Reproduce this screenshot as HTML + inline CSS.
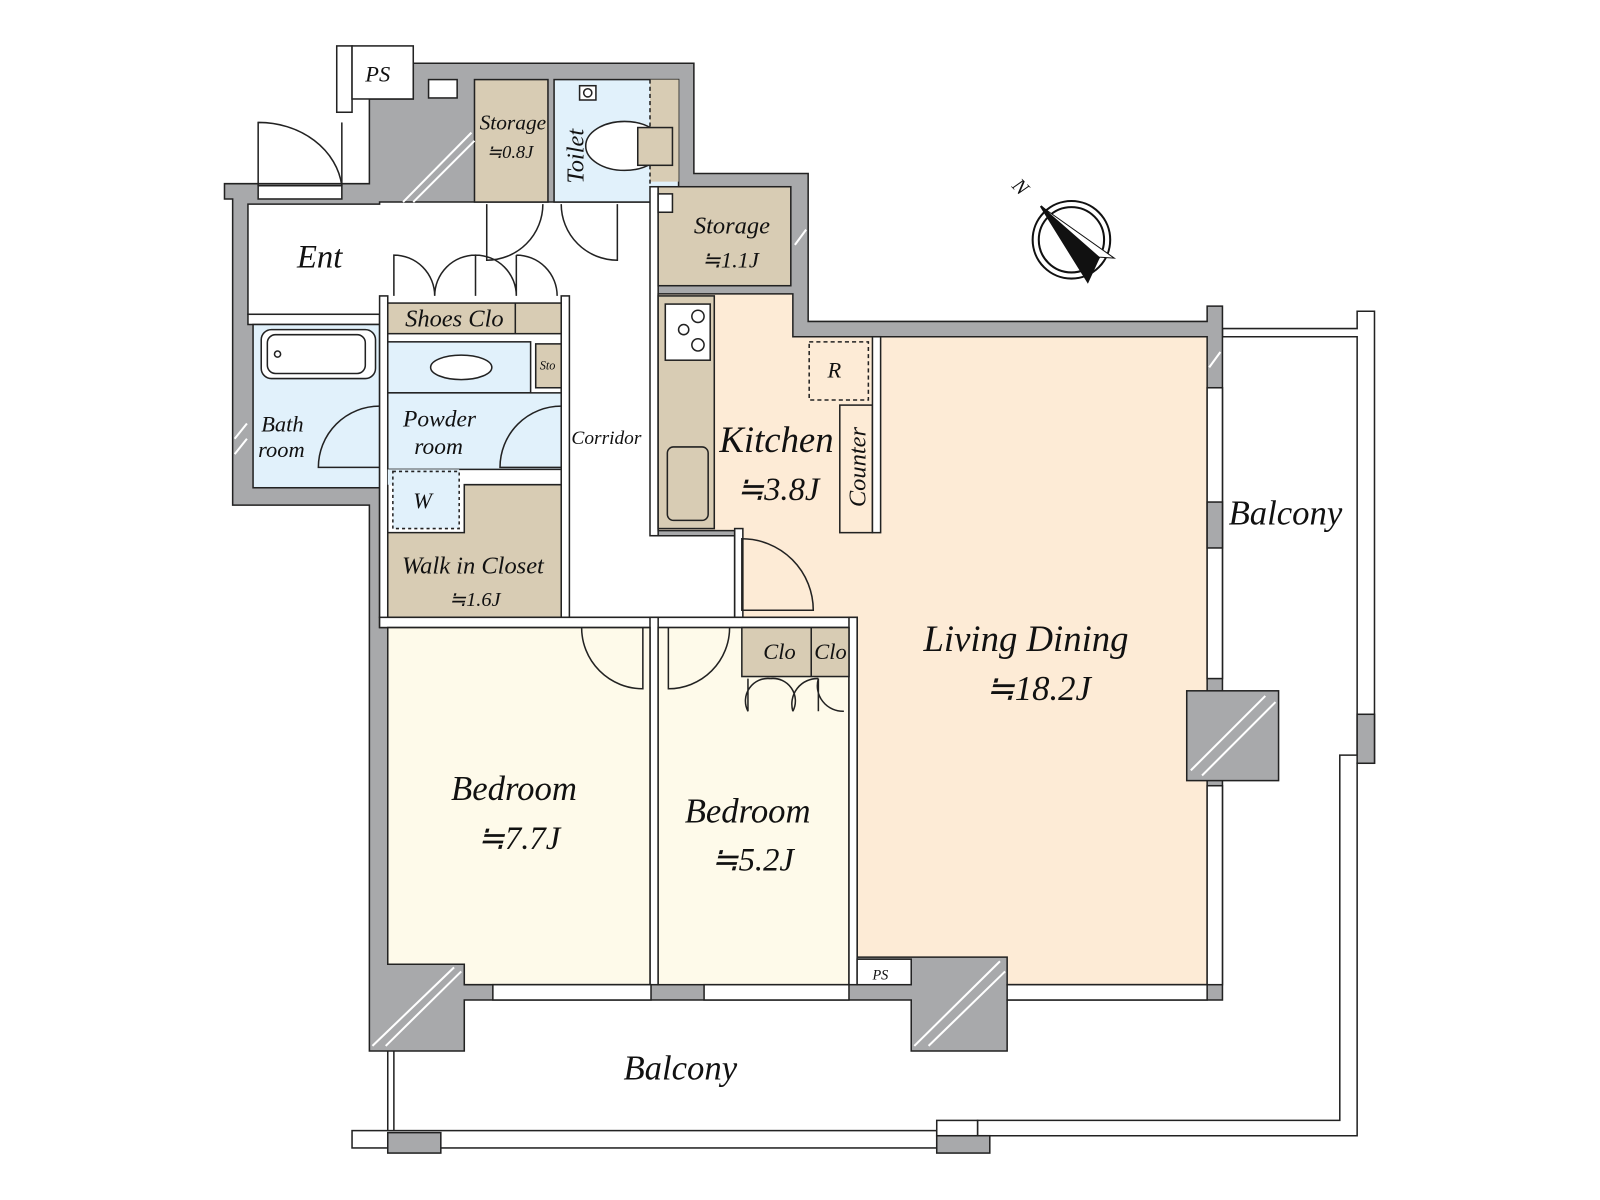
<!DOCTYPE html>
<html><head><meta charset="utf-8"><style>
html,body{margin:0;padding:0;background:#fff}
svg{display:block}
text{font-family:"Liberation Serif",serif;font-style:italic;fill:#111}
</style></head><body>
<svg width="1600" height="1200" viewBox="0 0 1568 1176" xmlns="http://www.w3.org/2000/svg">
<g stroke="#222" stroke-width="1.5">
<!-- balcony rails -->
<path d="M1198 322 H1330 V305 H1347 V748 H1330 V1113 H958 V1098 H1313 V740 H1330 V330 H1198 Z" fill="#fff"/>
<rect x="1330" y="700" width="17" height="48" fill="#a8a9ab"/>
<rect x="345" y="1108" width="573" height="17" fill="#fff"/>
<rect x="918" y="1113" width="52" height="17" fill="#a8a9ab"/>
<rect x="380" y="1110" width="52" height="20" fill="#a8a9ab"/>
<rect x="918" y="1098" width="40" height="15" fill="#fff"/>
<line x1="380" y1="1030" x2="380" y2="1108"/><line x1="386" y1="1030" x2="386" y2="1108"/>

<!-- outer gray walls -->
<path d="M220 180 H362 V97 H405 V62 H680 V170 H792 V315 H1183 V300 H1198 V980 H987 V1030 H893 V980 H455 V1030 H362 V495 H228 V195 H220 Z" fill="#a8a9ab"/>
<!-- Ent + corridor white -->
<path d="M243 200 H372 V198 H640 V525 H720 V605 H372 V308 H243 Z" fill="#fff"/>
<rect x="243" y="308" width="129" height="10" fill="#fff"/>
<rect x="465" y="78" width="72" height="120" fill="#d8ccb4"/>
<rect x="543" y="78" width="122" height="120" fill="#e1f1fb"/>
<rect x="637" y="78" width="28" height="100" fill="#d8ccb4" stroke="none"/>
<line x1="637" y1="78" x2="637" y2="180" stroke-dasharray="4 3"/>
<rect x="568" y="84" width="16" height="14" fill="#fff"/>
<circle cx="576" cy="91" r="4" fill="none"/>
<ellipse cx="612" cy="143" rx="38" ry="24" fill="#fff"/>
<rect x="625" y="125" width="34" height="37" fill="#d8ccb4"/>
<rect x="420" y="78" width="28" height="18" fill="#fff"/>
<rect x="330" y="45" width="15" height="65" fill="#fff"/>
<rect x="345" y="45" width="60" height="52" fill="#fff"/>
<rect x="637" y="183" width="8" height="342" fill="#fff"/>
<rect x="645" y="183" width="130" height="97" fill="#d8ccb4"/>
<rect x="645" y="190" width="14" height="18" fill="#fff"/>
<!-- kitchen/living -->
<path d="M645 288 H777 V330 H1183 V965 H987 V938 H840 V605 H720 V520 H645 Z" fill="#fdebd6"/>
<rect x="645" y="290" width="55" height="228" fill="#d8ccb4"/>
<rect x="652" y="298" width="44" height="55" fill="#fff"/>
<circle cx="684" cy="310" r="6" fill="none"/><circle cx="684" cy="338" r="6" fill="none"/><circle cx="670" cy="323" r="5" fill="none"/>
<rect x="654" y="438" width="40" height="72" rx="6" fill="#d8ccb4"/>
<rect x="793" y="335" width="58" height="57" fill="none" stroke-dasharray="4 3"/>
<rect x="823" y="397" width="32" height="125" fill="#fdebd6"/>
<rect x="855" y="330" width="8" height="192" fill="#fff"/>
<rect x="720" y="518" width="8" height="87" fill="#fff"/>
<!-- bath etc -->
<rect x="248" y="318" width="124" height="160" fill="#e1f1fb"/>
<rect x="256" y="323" width="112" height="48" rx="10" fill="#fff"/>
<rect x="262" y="328" width="96" height="38" rx="8" fill="none"/>
<circle cx="272" cy="347" r="3" fill="none"/>
<rect x="372" y="290" width="8" height="325" fill="#fff"/>
<rect x="550" y="290" width="8" height="315" fill="#fff"/>
<rect x="380" y="297" width="170" height="30" fill="#d8ccb4"/>
<line x1="505" y1="297" x2="505" y2="327"/>
<rect x="380" y="335" width="140" height="50" fill="#e1f1fb"/>
<ellipse cx="452" cy="360" rx="30" ry="12" fill="#fff"/>
<rect x="525" y="337" width="25" height="43" fill="#d8ccb4"/>
<rect x="380" y="385" width="170" height="75" fill="#e1f1fb"/>
<path d="M380 460 H450 V475 H380 Z" fill="#e1f1fb" stroke="none"/>
<rect x="385" y="462" width="65" height="56" fill="#e1f1fb" stroke-dasharray="3 3"/>
<path d="M380 522 H455 V475 H550 V605 H380 Z" fill="#d8ccb4"/>
<!-- partition walls -->
<rect x="372" y="605" width="468" height="10" fill="#fff"/>
<rect x="637" y="605" width="8" height="360" fill="#fff"/>
<!-- bedrooms -->
<path d="M380 615 H637 V965 H455 V945 H380 Z" fill="#fefaea"/>
<rect x="645" y="615" width="187" height="350" fill="#fefaea"/>
<rect x="832" y="605" width="8" height="360" fill="#fff"/>
<rect x="727" y="615" width="105" height="48" fill="#d8ccb4"/>
<line x1="795" y1="615" x2="795" y2="663"/>
<rect x="840" y="940" width="53" height="25" fill="#fff"/>
<!-- pillar -->
<rect x="1163" y="677" width="90" height="88" fill="#a8a9ab"/>
<!-- windows -->
<rect x="1183" y="380" width="15" height="285" fill="#fff"/>
<rect x="1183" y="770" width="15" height="195" fill="#fff"/>
<rect x="1183" y="492" width="15" height="45" fill="#a8a9ab"/>
<rect x="483" y="965" width="155" height="15" fill="#fff"/>
<rect x="690" y="965" width="142" height="15" fill="#fff"/>
<rect x="987" y="965" width="196" height="15" fill="#fff"/>
<rect x="253" y="182" width="82" height="13" fill="#fff"/>
</g>
<!-- hatches -->
<g stroke="#fff" stroke-width="2">
<line x1="395" y1="198" x2="462" y2="130"/><line x1="405" y1="198" x2="465" y2="138"/>
<line x1="365" y1="1025" x2="445" y2="948"/><line x1="378" y1="1025" x2="452" y2="952"/>
<line x1="896" y1="1025" x2="980" y2="942"/><line x1="910" y1="1025" x2="985" y2="952"/>
<line x1="1167" y1="755" x2="1240" y2="682"/><line x1="1178" y1="760" x2="1250" y2="688"/>
<line x1="230" y1="430" x2="242" y2="415"/><line x1="230" y1="445" x2="242" y2="430"/>
<line x1="779" y1="240" x2="790" y2="225"/><line x1="1185" y1="360" x2="1196" y2="345"/>
</g>
<!-- doors -->
<g stroke="#222" stroke-width="1.5" fill="none">
<path d="M253 182 V120 A82 70 0 0 1 335 182"/><line x1="335" y1="120" x2="335" y2="182"/>
<path d="M532 200 A55 55 0 0 1 477 255 V200"/>
<path d="M550 200 A55 55 0 0 0 605 255 V200"/>
<path d="M386 290 V250 A40 40 0 0 1 426 290 M426 290 A40 40 0 0 1 466 250 V290 M466 290 V250 A40 40 0 0 1 506 290 M506 250 A40 40 0 0 1 546 290 M506 250 V290"/>
<path d="M372 398 A60 60 0 0 0 312 458 H372"/>
<path d="M550 398 A60 60 0 0 0 490 458 H550"/>
<path d="M570 615 A60 60 0 0 0 630 675 V615"/>
<path d="M715 615 A60 60 0 0 1 655 675 V615"/>
<path d="M727 528 A70 70 0 0 1 797 598 H727 Z"/>
<path d="M733 665 V697 A22 22 0 0 1 755 665 M777 697 A22 22 0 0 0 755 665 M777 697 A25 25 0 0 1 802 665 M827 697 A25 25 0 0 1 802 665 V697"/>
</g>
<!-- compass -->
<g stroke="#111" stroke-width="2" fill="none">
<ellipse cx="1050" cy="235" rx="38" ry="38"/><ellipse cx="1050" cy="235" rx="32" ry="32"/>
<polygon points="1020,202 1077,252 1066,276" fill="#111"/>
<polygon points="1020,202 1092,253 1077,252" fill="#fff" stroke-width="1"/>
</g>
<text x="992" y="190" font-size="20" transform="rotate(45 1000 185)">N</text>
<!-- labels -->
<text x="358" y="80" font-size="22">PS</text>
<text x="470" y="127" font-size="21">Storage</text>
<text x="477" y="155" font-size="18">≒0.8J</text>
<text x="0" y="0" font-size="24" transform="translate(572,180) rotate(-90)">Toilet</text>
<text x="680" y="229" font-size="24">Storage</text>
<text x="688" y="262" font-size="22">≒1.1J</text>
<text x="291" y="262" font-size="32">Ent</text>
<text x="397" y="320" font-size="24">Shoes Clo</text>
<text x="529" y="362" font-size="12">Sto</text>
<text x="256" y="423" font-size="22">Bath</text>
<text x="253" y="448" font-size="22">room</text>
<text x="395" y="418" font-size="23">Powder</text>
<text x="406" y="445" font-size="23">room</text>
<text x="560" y="435" font-size="19">Corridor</text>
<text x="405" y="498" font-size="22">W</text>
<text x="394" y="562" font-size="24">Walk in Closet</text>
<text x="440" y="594" font-size="20">≒1.6J</text>
<text x="811" y="370" font-size="22">R</text>
<text x="705" y="443" font-size="36">Kitchen</text>
<text x="722" y="490" font-size="32">≒3.8J</text>
<text x="0" y="0" font-size="24" transform="translate(848,497) rotate(-90)">Counter</text>
<text x="1204" y="514" font-size="34">Balcony</text>
<text x="905" y="638" font-size="36">Living Dining</text>
<text x="966" y="686" font-size="34">≒18.2J</text>
<text x="748" y="646" font-size="22">Clo</text>
<text x="798" y="646" font-size="22">Clo</text>
<text x="442" y="784" font-size="34">Bedroom</text>
<text x="468" y="832" font-size="32">≒7.7J</text>
<text x="671" y="806" font-size="34">Bedroom</text>
<text x="697" y="853" font-size="32">≒5.2J</text>
<text x="855" y="960" font-size="14">PS</text>
<text x="611" y="1058" font-size="34">Balcony</text>
</svg>
</body></html>
